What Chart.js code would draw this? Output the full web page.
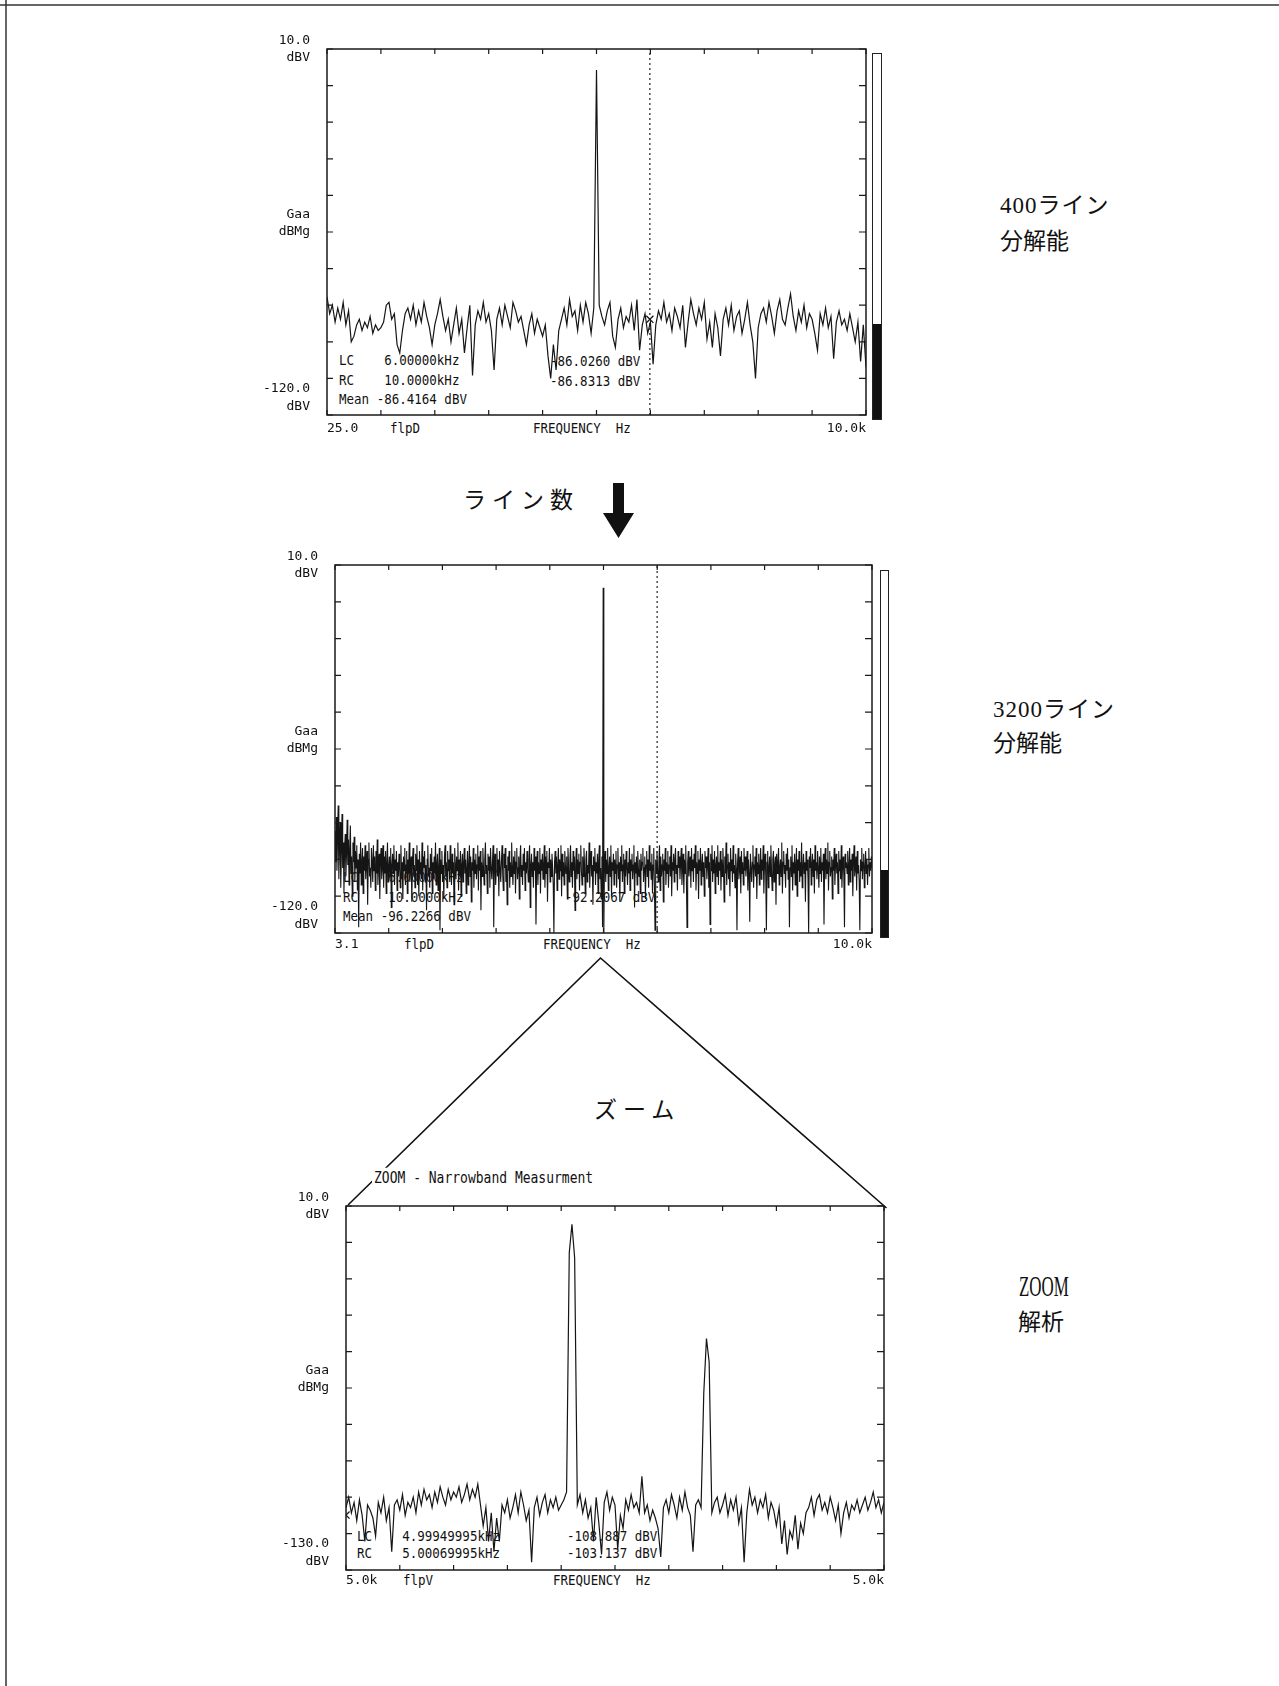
<!DOCTYPE html>
<html lang="ja">
<head>
<meta charset="utf-8">
<title>400ライン / 3200ライン / ZOOM解析</title>
<script src="https://cdn.jsdelivr.net/npm/chart.js@4.4.1/dist/chart.umd.min.js"></script>
<style>
  body { margin: 0; background: #fff; }
  #page { position: relative; width: 1279px; height: 1686px; overflow: hidden; color: #111;
          font-family: "DejaVu Sans Mono", "Liberation Mono", monospace; }
  #page canvas { position: absolute; z-index: 2; }
  #deco { position: absolute; left: 0; top: 0; z-index: 0; }
  .t { position: absolute; font-size: 12.5px; line-height: 17px; white-space: pre; z-index: 1;
       transform: scaleY(1.15); transform-origin: left center; }
  .jp { position: absolute; font-family: "Liberation Serif", "Noto Sans CJK JP", serif; font-size: 23px;
        line-height: 26px; white-space: pre; z-index: 1; }
  .bar { position: absolute; border: 1px solid #222; box-sizing: border-box; z-index: 1; }
  .bar div { position: absolute; left: 0; right: 0; bottom: 0; background: #111; }
</style>
</head>
<body>
<div id="page">
  <svg id="deco" width="1279" height="1686">
    <line x1="0" y1="5" x2="1279" y2="5" stroke="#333" stroke-width="1.5"/>
    <line x1="6" y1="0" x2="6" y2="1686" stroke="#333" stroke-width="1.5"/>
    <polygon points="613,483 624,483 624,513 634,513 618.5,538 603,513 613,513" fill="#111"/>
    <polyline points="348,1205 600.5,958 886.5,1208" fill="none" stroke="#111" stroke-width="1.6"/>
  </svg>

  <canvas id="topChart"></canvas>
  <canvas id="midChart"></canvas>
  <canvas id="zoomChart"></canvas>

  <!-- top: 400 lines -->
  <div class="t" style="left:339px;top:354px">LC    6.00000kHz
RC    10.0000kHz
Mean -86.4164 dBV</div>
  <div class="t" style="left:550px;top:354px">-86.0260 dBV
-86.8313 dBV</div>
  <div class="t" style="left:390px;top:419px">flpD</div>
  <div class="t" style="left:533px;top:419px">FREQUENCY  Hz</div>
  <div class="bar" style="left:872px;top:53px;width:10px;height:367px"><div style="height:95px"></div></div>

  <!-- middle: 3200 lines -->
  <div class="t" style="left:343px;top:871px">LC    6.00000kHz
RC    10.0000kHz
Mean -96.2266 dBV</div>
  <div class="t" style="left:565px;top:888px">-92.2067 dBV</div>
  <div class="t" style="left:404px;top:935px">flpD</div>
  <div class="t" style="left:543px;top:935px">FREQUENCY  Hz</div>
  <div class="bar" style="left:880px;top:570px;width:9px;height:368px"><div style="height:67px"></div></div>

  <!-- bottom: zoom -->
  <div class="t" style="left:372px;top:1169px;font-size:13px;background:#fff;padding:0 2px">ZOOM - Narrowband Measurment</div>
  <div class="t" style="left:357px;top:1529px;line-height:15px">LC    4.99949995kHz
RC    5.00069995kHz</div>
  <div class="t" style="left:567px;top:1529px;line-height:15px">-108.887 dBV
-103.137 dBV</div>
  <div class="t" style="left:403px;top:1571px">flpV</div>
  <div class="t" style="left:553px;top:1571px">FREQUENCY  Hz</div>

  <!-- japanese captions -->
  <div class="jp" style="left:1000px;top:193px;letter-spacing:1px">400ライン</div>
  <div class="jp" style="left:1000px;top:229px">分解能</div>
  <div class="jp" style="left:993px;top:697px;letter-spacing:1px">3200ライン</div>
  <div class="jp" style="left:993px;top:731px">分解能</div>
  <div class="jp" style="left:1019px;top:1274px;font-size:26px;transform:scale(0.65,1.1);transform-origin:left center">ZOOM</div>
  <div class="jp" style="left:1018px;top:1310px">解析</div>
  <div class="jp" style="left:463px;top:488px;letter-spacing:6px">ライン数</div>
  <div class="jp" style="left:594px;top:1098px;letter-spacing:6px">ズーム</div>
</div>

<script>
// spectrum data (dBV), one value per frequency line

// 400 line analysis, 25 Hz .. 10 kHz
const topFreqStartHz = 25;
const topFreqStepHz = 49.875;
const topNoiseDbv = [
  -78, -84, -81, -87, -82, -86, -80, -88, -83, -94,
  -92, -88, -86, -90, -87, -89, -85, -91, -88, -90,
  -89, -87, -81, -80, -86, -84, -95, -98, -90, -84,
  -82, -86, -81, -88, -83, -87, -80, -85, -89, -95,
  -88, -84, -79, -85, -90, -86, -94, -88, -82, -91,
  -86, -98, -89, -81, -106, -88, -83, -86, -80, -87,
  -84, -90, -104, -86, -82, -88, -81, -85, -89, -80,
  -83, -87, -85, -90, -95, -88, -84, -91, -86, -89,
  -92, -88, -99, -107, -95, -104, -90, -86, -82, -88,
  -79, -85, -83, -90, -81, -87, -80, -84, -91, -82,
  2.5,
  -81, -85, -88, -83, -80, -92, -96, -86, -82,
  -89, -85, -87, -81, -90, -79, -97, -88, -84, -91,
  -87, -102, -88, -83, -86, -80, -87, -84, -90, -82,
  -85, -89, -81, -96, -87, -79, -84, -88, -82, -86,
  -80, -93, -87, -96, -84, -89, -99, -86, -82, -88,
  -81, -90, -85, -83, -91, -86, -80, -88, -94, -107,
  -89, -84, -82, -87, -80, -85, -91, -83, -79, -86,
  -88, -82, -77, -85, -90, -83, -87, -81, -89, -84,
  -86, -91, -97, -84, -88, -82, -89, -85, -100, -87,
  -83, -88, -86, -90, -84, -89, -94, -87, -101, -88,
  -103
];

// 3200 line analysis, 3.1 Hz .. 10 kHz
const midFreqStartHz = 3.1;
const midFreqStepHz = 11.9153;
const midNoiseDbv = [
  -84, -95, -79, -98, -86, -75, -101, -89, -81, -104, -91, -78, -97, -88, -106, -90, -85, -100, -92, -80,
  -96, -87, -103, -90, -82, -99, -93, -107, -88, -95, -86, -102, -91, -97, -89, -105, -94, -118, -92, -99,
  -88, -103, -95, -90, -106, -93, -98, -89, -101, -96, -91, -110, -94, -88, -100, -97, -104, -90, -95, -102,
  -89, -98, -93, -105, -91, -99, -87, -103, -96, -92, -108, -94, -90, -101, -97, -89, -104, -93, -99, -91,
  -106, -95, -88, -102, -97, -93, -100, -90, -111, -96, -92, -99, -89, -103, -94, -98, -91, -105, -95, -100,
  -92, -97, -104, -89, -101, -95, -108, -93, -98, -90, -103, -96, -91, -106, -94, -99, -88, -102, -97, -93,
  -109, -95, -90, -100, -96, -104, -92, -98, -89, -103, -94, -107, -91, -99, -95, -101, -88, -105, -93, -97,
  -91, -102, -96, -112, -94, -89, -100, -97, -104, -92, -98, -90, -106, -95, -101, -93, -99, -88, -103, -96,
  -92, -105, -97, -90, -119, -94, -99, -91, -102, -96, -108, -93, -89, -100, -95, -104, -91, -98, -94, -101,
  -89, -97, -103, -92, -99, -95, -110, -90, -96, -101, -93, -98, -88, -105, -94, -100, -91, -107, -96, -92,
  -102, -95, -90, -99, -94, -106, -97, -91, -103, -96, -89, -100, -93, -109, -95, -98, -90, -104, -94, -99,
  -92, -101, -96, -89, -105, -93, -98, -91, -112, -95, -100, -90, -97, -103, -94, -88, -99, -96, -106, -92,
  -98, -93, -104, -90, -97, -101, -95, -89, -118, -96, -92, -103, -98, -90, -100, -94, -107, -91, -97, -102,
  -95, -89, -99, -105, -92, -97, -90, -102, -96, -110, -93, -98, -91, -104, -95, -100, -88, -97, -103, -93,
  -99, -91, -106, -95, -90, -101, -97, -93, -108, -94, -89, -100, -96, -103, -92, -98, -90, -105, -95, -99,
  -91, -97, -102, -94, -89, -111, -96, -92, -100, -95, -104, -90, -98, -93, -117, -97, -91, -103, -95, -99,
  -90, -106, -94, -98, -92, -101, -96, -89, -104, -93, -99, -91, -109, -95, -97, -90, -102, -94, -100, -92,
  -97, -103, -120, -95, -91, -99, -93, -105, -96, -90, -101, -94, -98, -89, -107, -92, -100, -95, -103, -91,
  -96, -99, -93, -108, -90, -97, -102, -94, -89, -100, -95, -104, -91, -98, -93, -112, -96, -90, -101, -94,
  -99, -92, -105, -95, -89, -98, -103, -93, -100, -90, -97, -106, -94, -91, -102, -96, -99, -88, -104, -95,
  -91, -100, -96, -110, -93, -98, -90, -103, -95, -99, -92, -106, -94, -89, -101, -97, -108, -93, -118, 2,
  -120, -96, -91, -102, -94, -99, -90, -105, -97, -93, -100, -89, -107, -95, -98, -92, -103, -94, -99, -91,
  -104, -96, -90, -101, -95, -109, -93, -98, -89, -102, -96, -92, -106, -94, -100, -91, -97, -103, -95, -99,
  -90, -105, -94, -98, -92, -101, -96, -89, -111, -95, -99, -93, -103, -91, -97, -100, -94, -106, -92, -98,
  -95, -90, -102, -97, -93, -108, -96, -91, -100, -94, -104, -89, -98, -95, -101, -92, -106, -96, -90, -103,
  -119, -94, -99, -91, -97, -102, -95, -89, -105, -93, -100, -96, -92, -109, -94, -98, -90, -103, -95, -99,
  -91, -104, -96, -93, -100, -89, -107, -95, -98, -92, -102, -94, -90, -99, -96, -105, -91, -97, -93, -101,
  -95, -90, -103, -97, -92, -106, -94, -99, -89, -101, -118, -95, -91, -100, -96, -93, -104, -90, -98, -94,
  -102, -92, -97, -89, -105, -95, -99, -91, -108, -94, -98, -90, -103, -96, -92, -100, -95, -107, -91, -97,
  -93, -101, -96, -90, -104, -95, -117, -92, -98, -89, -102, -94, -99, -91, -106, -96, -93, -100, -89, -103,
  -95, -98, -91, -105, -94, -100, -90, -97, -109, -93, -99, -88, -103, -96, -92, -101, -95, -107, -90, -98,
  -94, -102, -89, -99, -96, -104, -92, -97, -119, -95, -90, -101, -97, -93, -106, -91, -99, -95, -103, -90,
  -98, -93, -100, -96, -91, -105, -94, -99, -116, -92, -97, -102, -95, -89, -104, -96, -93, -100, -90, -108,
  -95, -99, -92, -103, -97, -90, -101, -94, -98, -89, -106, -96, -92, -100, -119, -95, -91, -104, -97, -93,
  -100, -89, -98, -105, -94, -91, -102, -96, -93, -110, -92, -99, -95, -90, -103, -97, -94, -100, -88, -106,
  -95, -91, -99, -96, -104, -92, -98, -90, -101, -94, -118, -97, -93, -100, -89, -105, -95, -99, -92, -103,
  -96, -90, -107, -94, -98, -91, -102, -95, -100, -88, -104, -97, -92, -99, -95, -109, -91, -98, -94, -101,
  -120, -93, -97, -90, -103, -96, -92, -100, -94, -106, -89, -98, -95, -101, -91, -97, -104, -93, -99, -90,
  -102, -95, -98, -92, -117, -96, -90, -101, -94, -99, -88, -105, -95, -91, -100, -97, -93, -108, -94, -98,
  -90, -103, -96, -92, -99, -95, -106, -91, -98, -94, -101, -89, -104, -96, -93, -100, -118, -92, -97, -95,
  -99, -91, -103, -96, -90, -102, -94, -98, -92, -107, -95, -89, -100, -97, -93, -105, -91, -99, -96, -102,
  -119, -94, -98, -90, -101, -95, -92, -104, -97, -91, -99, -94, -103, -96, -90, -100, -95, -98, -93, -97
];

// zoom, 4.99949995 kHz .. 5.00069995 kHz
const zoomFreqStartHz = 4999.49995;
const zoomFreqStepHz = 0.006;
const zoomNoiseDbv = [
  -106, -102, -108, -104, -111, -103, -109, -119, -105, -107,
  -110, -117, -104, -108, -102, -111, -106, -123, -105, -103,
  -107, -101, -109, -104, -106, -102, -108, -100, -105, -99,
  -103, -101, -106, -100, -104, -98, -102, -105, -99, -103,
  -100, -102, -98, -104, -101, -97, -103, -99, -102, -97,
  -105, -113, -106, -119, -108, -123, -110, -119, -105, -108,
  -103, -110, -106, -101, -108, -100, -105, -111, -107, -127,
  -106, -102, -109, -104, -101, -108, -103, -106, -102, -107,
  -105, -103, -100, -8, 3, -10, -105, -101, -108, -103,
  -110, -106, -119, -102, -112, -124, -104, -100, -107, -102,
  -105, -122, -109, -114, -103, -107, -101, -106, -104, -108,
  -94, -108, -105, -111, -107, -110, -114, -125, -106, -103,
  -108, -101, -105, -110, -102, -107, -100, -106, -109, -123,
  -105, -103, -106, -62, -41, -50, -108, -104, -102, -108,
  -105, -101, -109, -103, -107, -102, -112, -106, -127, -108,
  -99, -105, -102, -108, -103, -106, -101, -110, -104, -107,
  -113, -106, -120, -111, -124, -115, -118, -109, -122, -112,
  -116, -108, -106, -102, -109, -103, -101, -107, -104, -108,
  -102, -106, -111, -105, -116, -108, -104, -110, -105, -107,
  -103, -108, -105, -102, -107, -104, -100, -106, -103, -108,
  -104
];

// cursors
const lcCursorHz = 6000;
const topLcDbv = -86.026;
const zoomLcDbv = -108.887;

// axis labels
const topXLabels = ['25.0', '10.0k'];
const midXLabels = ['3.1', '10.0k'];
const zoomXLabels = ['5.0k', '5.0k'];
const topYLabels = { top: ['10.0', 'dBV'], mid: ['Gaa', 'dBMg', ''], bottom: ['-120.0', 'dBV', '', ''] };
const zoomYLabels = { top: ['10.0', 'dBV'], mid: ['Gaa', 'dBMg', ''], bottom: ['-130.0', 'dBV', '', ''] };

const tickFont = { family: 'DejaVu Sans Mono', size: 13, lineHeight: 1.35 };

function pts(start, step, values) {
  return values.map((v, i) => ({ x: start + i * step, y: v }));
}

// frame with inward ticks on all four sides, like the analyser plot
const frame = {
  id: 'frame',
  afterDatasetsDraw(chart) {
    const { ctx, chartArea: a, scales } = chart;
    ctx.save();
    ctx.strokeStyle = '#1a1a1a';
    ctx.lineWidth = 1.5;
    ctx.strokeRect(a.left, a.top, a.right - a.left, a.bottom - a.top);
    ctx.lineWidth = 1.2;
    ctx.beginPath();
    scales.x.ticks.forEach(t => {
      const px = scales.x.getPixelForValue(t.value);
      ctx.moveTo(px, a.top); ctx.lineTo(px, a.top + 5);
      ctx.moveTo(px, a.bottom); ctx.lineTo(px, a.bottom - 5);
    });
    scales.y.ticks.forEach(t => {
      const py = scales.y.getPixelForValue(t.value);
      ctx.moveTo(a.left, py); ctx.lineTo(a.left + 6, py);
      ctx.moveTo(a.right, py); ctx.lineTo(a.right - 7, py);
    });
    ctx.stroke();
    ctx.restore();
  }
};

function spectrum(id, area, s) {
  // room round the plot box for the tick labels
  const padL = 100, padT = 50, padR = 20, padB = 60;
  const cv = document.getElementById(id);
  cv.width = area.right - area.left + padL + padR;
  cv.height = area.bottom - area.top + padT + padB;
  cv.style.left = (area.left - padL) + 'px';
  cv.style.top = (area.top - padT) + 'px';
  const even = (min, max) => Array.from({ length: 11 }, (_, k) => ({ value: min + (max - min) * k / 10 }));

  return new Chart(cv, {
    type: 'line',
    data: { datasets: s.datasets },
    options: {
      responsive: false,
      animation: false,
      layout: { padding: { left: 0, top: padT, right: padR, bottom: 0 } },
      plugins: { legend: { display: false }, tooltip: { enabled: false } },
      elements: { point: { radius: 0 }, line: { tension: 0 } },
      scales: {
        x: {
          type: 'linear', min: s.xMin, max: s.xMax,
          grid: { display: false, drawTicks: false },
          border: { display: false },
          afterBuildTicks: sc => { sc.ticks = even(s.xMin, s.xMax); },
          afterFit: sc => { sc.height = padB; },
          ticks: {
            autoSkip: false, maxRotation: 0, minRotation: 0, align: 'inner',
            padding: s.xPad, color: '#111', font: tickFont,
            callback: (v, i) => i === 0 ? s.xLabels[0] : i === 10 ? s.xLabels[1] : ''
          }
        },
        y: {
          type: 'linear', min: s.yMin, max: s.yMax,
          grid: { display: false, drawTicks: false },
          border: { display: false },
          afterBuildTicks: sc => { sc.ticks = even(s.yMin, s.yMax); },
          afterFit: sc => { sc.width = padL; },
          ticks: {
            autoSkip: false, padding: 17, color: '#111', font: tickFont,
            callback: (v, i) => i === 0 ? s.yLabels.bottom : i === 5 ? s.yLabels.mid : i === 10 ? s.yLabels.top : ''
          }
        }
      }
    },
    plugins: [frame]
  });
}

function trace(data, width) {
  return { data, borderColor: '#151515', borderWidth: width, pointRadius: 0 };
}
function cursorLine(x, yMin, yMax) {
  return { data: [{ x, y: yMin }, { x, y: yMax }], borderColor: '#222', borderWidth: 1.2, borderDash: [2, 3], pointRadius: 0 };
}
function marker(x, y) {
  return { data: [{ x, y }], showLine: false, pointStyle: 'crossRot', pointRadius: 5,
           pointBorderColor: '#111', pointBorderWidth: 1.3 };
}

// 400 line
spectrum('topChart', { left: 327, top: 49, right: 866, bottom: 415 }, {
  xMin: 25, xMax: 10000, yMin: -120, yMax: 10, xPad: 5,
  xLabels: topXLabels, yLabels: topYLabels,
  datasets: [
    trace(pts(topFreqStartHz, topFreqStepHz, topNoiseDbv), 1.2),
    cursorLine(lcCursorHz, -120, 10),
    marker(lcCursorHz, topLcDbv)
  ]
});

// 3200 line
spectrum('midChart', { left: 335, top: 565, right: 872, bottom: 933 }, {
  xMin: 3.1, xMax: 10000, yMin: -120, yMax: 10, xPad: 3,
  xLabels: midXLabels, yLabels: topYLabels,
  datasets: [
    trace(pts(midFreqStartHz, midFreqStepHz, midNoiseDbv), 1.1),
    cursorLine(lcCursorHz, -120, 10)
  ]
});

// zoom
spectrum('zoomChart', { left: 346, top: 1206, right: 884, bottom: 1570 }, {
  xMin: zoomFreqStartHz, xMax: 5000.69995, yMin: -130, yMax: 10, xPad: 2,
  xLabels: zoomXLabels, yLabels: zoomYLabels,
  datasets: [
    trace(pts(zoomFreqStartHz, zoomFreqStepHz, zoomNoiseDbv), 1.2),
    marker(zoomFreqStartHz, zoomLcDbv)
  ]
});
</script>
</body>
</html>
